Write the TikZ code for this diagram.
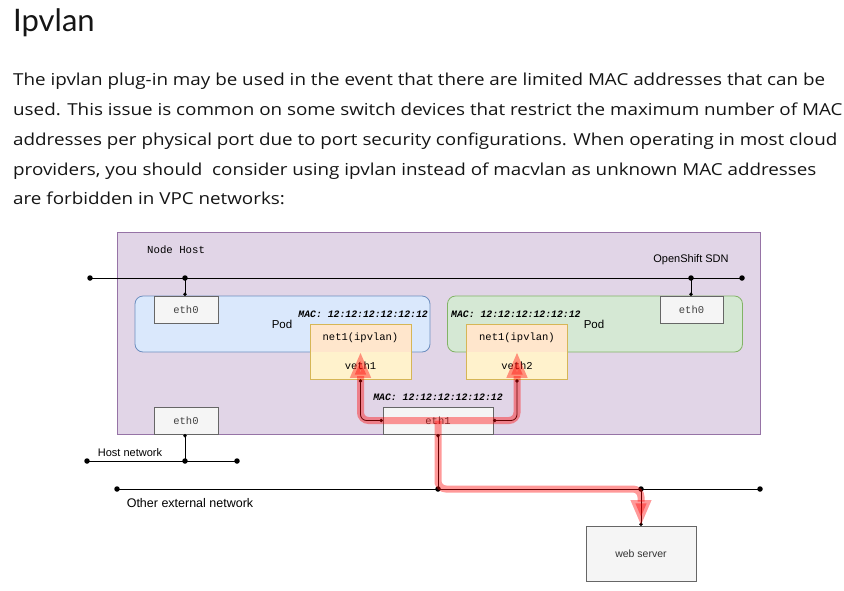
\documentclass[tikz,border=0pt]{standalone}
\usepackage{fontspec}
\setmainfont{Lato}
\newfontfamily\bodyfont[FakeStretch=1.14]{Open Sans}
\newfontfamily\drawsans{Liberation Sans}
\newfontfamily\drawmono{Liberation Mono}
\usepackage{xcolor}
\usepackage{tikz}
\usetikzlibrary{positioning,arrows.meta}
\definecolor{pagetext}{HTML}{151515}
\definecolor{hostfill}{HTML}{E1D5E7}
\definecolor{hostline}{HTML}{9673A6}
\definecolor{bluefill}{HTML}{DAE8FC}
\definecolor{blueline}{HTML}{6C8EBF}
\definecolor{greenfill}{HTML}{D5E8D4}
\definecolor{greenline}{HTML}{82B366}
\definecolor{orangefill}{HTML}{FFE6CC}
\definecolor{yellowfill}{HTML}{FFF2CC}
\definecolor{yellowline}{HTML}{D6B656}
\definecolor{greyfill}{HTML}{F5F5F5}
\definecolor{greyline}{HTML}{666666}

\begin{document}
\begin{tikzpicture}[x=1pt,y=-1pt,
	bodyline/.style={anchor=base west,inner sep=0pt,text=pagetext,font=\bodyfont\fontsize{16.5}{20}\selectfont},
	ifbox/.style={draw=greyline,fill=greyfill,line width=0.8pt,inner sep=0pt,outer sep=0pt,text=black!75,font=\drawmono\fontsize{10.5}{12}\selectfont},
	podbox/.style={line width=0.8pt,rounded corners=8pt,inner sep=0pt,outer sep=0pt,minimum width=295pt,minimum height=56pt},
	netbox/.style={inner sep=0pt,outer sep=0pt,minimum width=101pt,minimum height=27.5pt,font=\drawmono\fontsize{10.5}{12}\selectfont},
	mac/.style={inner sep=0pt,font=\drawmono\bfseries\itshape\fontsize{9.8}{11}\selectfont},
	lbl/.style={inner sep=0pt,font=\drawsans\fontsize{11}{13}\selectfont},
	dot/.style={circle,fill=black,inner sep=0pt,minimum size=5.5pt},
	wire/.style={line width=0.8pt,-{Circle[length=3.5pt]}},
	wires/.style={line width=0.8pt,rounded corners=6pt,{Circle[length=3.5pt]}-{Circle[length=3.5pt]}},
	flow/.style={draw=red,opacity=0.4,line width=7pt,rounded corners=8pt,-{Triangle[length=26pt,width=19pt]}}]
	\useasboundingbox[fill=white] (0,0) rectangle (844,590);

	\node[anchor=base west,inner sep=0pt,text=pagetext,font=\fontsize{31}{34}\selectfont] (title) at (13,31) {Ipvlan};
	\node[bodyline] (line1) at (13,85) {The ipvlan plug-in may be used in the event that there are limited MAC addresses that can be};
	\node[bodyline] (line2) at (13,115) {used. This issue is common on some switch devices that restrict the maximum number of MAC};
	\node[bodyline] (line3) at (13,145) {addresses per physical port due to port security configurations. When operating in most cloud};
	\node[bodyline] (line4) at (13,175) {providers, you should\ \ consider using ipvlan instead of macvlan as unknown MAC addresses};
	\node[bodyline] (line5) at (13,204) {are forbidden in VPC networks:};

	% node host
	\draw[draw=hostline,fill=hostfill,line width=0.8pt] (117,232) rectangle (760,434);
	\node[anchor=west,inner sep=0pt,font=\drawmono\fontsize{10.7}{12}\selectfont] (hostname) at (147,250) {Node Host};
	\node[lbl] (sdnname) at (691,260) {OpenShift SDN};

	\node[podbox,draw=blueline,fill=bluefill] (podL) at (282.5,324) {};
	\node[podbox,draw=greenline,fill=greenfill] (podR) at (595,324) {};
	\node[lbl,font=\drawsans\fontsize{11.5}{13}\selectfont] (podLname) at (282,324) {Pod};
	\node[lbl,font=\drawsans\fontsize{11.5}{13}\selectfont] (podRname) at (594,324) {Pod};

	\node[ifbox,minimum width=64pt,minimum height=27pt] (ethA) at (186,309.5) {eth0};
	\node[ifbox,minimum width=63pt,minimum height=27pt] (ethB) at (691.5,309.5) {eth0};
	\node[ifbox,minimum width=64pt,minimum height=27pt] (ethC) at (186,420.5) {eth0};
	\node[ifbox,minimum width=110pt,minimum height=27pt] (eth1) at (438,420.5) {eth1};

	\node[mac,anchor=east] (macL) at (428,314) {MAC: 12:12:12:12:12:12};
	\node[mac,anchor=west] (macR) at (451,314) {MAC: 12:12:12:12:12:12};
	\node[mac] (macE) at (438,397) {MAC: 12:12:12:12:12:12};

	\node[netbox,fill=orangefill] (net1L) at (360.5,338) {net1(ipvlan)};
	\node[netbox,fill=yellowfill,below=0pt of net1L] (veth1) {veth1};
	\draw[yellowline,line width=0.8pt] (net1L.north west) rectangle (veth1.south east);
	\node[netbox,fill=orangefill] (net1R) at (517,338) {net1(ipvlan)};
	\node[netbox,fill=yellowfill,below=0pt of net1R] (veth2) {veth2};
	\draw[yellowline,line width=0.8pt] (net1R.north west) rectangle (veth2.south east);

	% networks
	\node[dot] (sdnA) at (90,278) {};
	\node[dot] (sdnB) at (185,278) {};
	\node[dot] (sdnC) at (691,278) {};
	\node[dot] (sdnD) at (742,278) {};
	\draw[line width=0.8pt] (sdnA.center) -- (sdnD.center);
	\draw[wire] (sdnB.center) -- (ethA.north -| sdnB);
	\draw[wire] (sdnC.center) -- (ethB.north -| sdnC);

	\node[dot] (hostA) at (87,461) {};
	\node[dot] (hostB) at (185,461) {};
	\node[dot] (hostC) at (237,461) {};
	\draw[line width=0.8pt] (hostA.center) -- (hostC.center);
	\draw[wire] (hostB.center) -- (ethC.south -| hostB);
	\node[lbl] (hostname) at (130,453) {Host network};

	\node[dot] (extA) at (117,489) {};
	\node[dot] (extB) at (438,489) {};
	\node[dot] (extC) at (641,489) {};
	\node[dot] (extD) at (760,489) {};
	\draw[line width=0.8pt] (extA.center) -- (extD.center);
	\node[lbl,font=\drawsans\fontsize{12.5}{15}\selectfont] (extname) at (190,503) {Other external network};

	\node[ifbox,minimum width=110pt,minimum height=55pt,text=black!80,font=\drawsans\fontsize{10.5}{12}\selectfont] (web) at (641,553.5) {web server};

	\draw[wire] (extC.center) -- (web.north);
	\draw[wire] (extB.center) -- (eth1.south);
	\draw[wires] (eth1.west) -| (veth1.south);
	\draw[wires] (eth1.east) -| (veth2.south);

	% traffic
	\draw[flow] (eth1.center) -| (veth1.north);
	\draw[flow] (eth1.center) -| (veth2.north);
	\draw[flow] (eth1.center) |- (extB.center) -| (web.north);
\end{tikzpicture}
\end{document}
